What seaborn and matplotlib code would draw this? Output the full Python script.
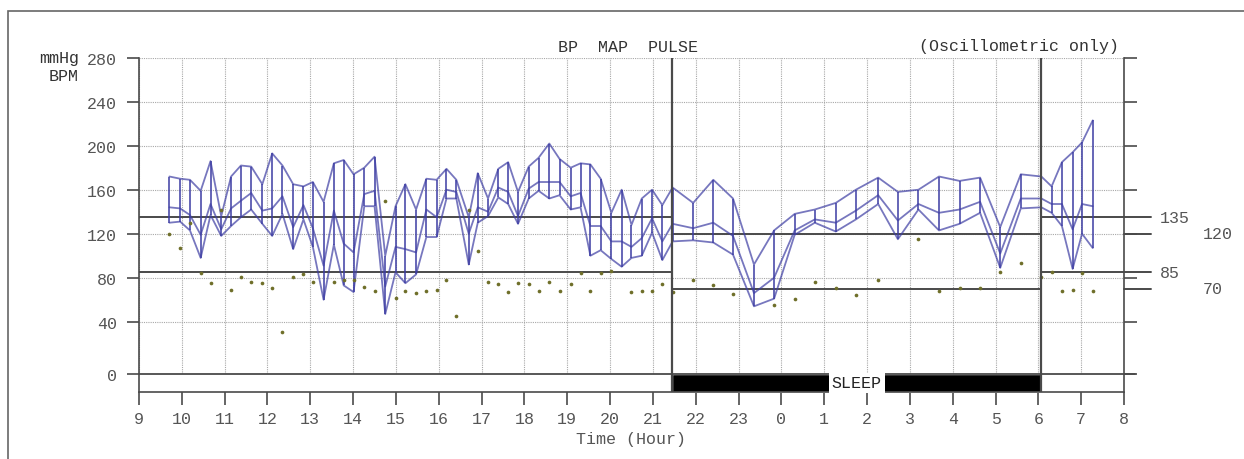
import numpy as np
import pandas as pd
import matplotlib
matplotlib.use("Agg")
import matplotlib.pyplot as plt
from matplotlib.patches import Rectangle
import seaborn as sns

# ===============================
# Data (hours after midnight of day 1)
# ===============================
hours = [9.71, 9.96, 10.19, 10.44, 10.67, 10.92, 11.15, 11.38, 11.62, 11.88,
         12.11, 12.35, 12.60, 12.84, 13.06, 13.31, 13.55, 13.78, 14.01, 14.26,
         14.50, 14.75, 14.99, 15.22, 15.47, 15.71, 15.95, 16.18, 16.41, 16.70,
         16.91, 17.15, 17.39, 17.62, 17.85, 18.10, 18.33, 18.58, 18.82, 19.08,
         19.31, 19.54, 19.78, 20.03, 20.27, 20.50, 20.74, 20.98, 21.22, 21.46,
         21.94, 22.41, 22.87, 23.36, 23.83, 24.31, 24.78, 25.27, 25.74, 26.26,
         26.72, 27.20, 27.68, 28.16, 28.64, 29.11, 29.59, 30.07, 30.31, 30.55,
         30.80, 31.02, 31.27]
systolic = [172, 170, 169, 159, 186, 136, 172, 182, 181, 165,
            193, 182, 165, 163, 167, 149, 184, 187, 174, 180,
            190, 100, 145, 165, 142, 170, 169, 179, 169, 135,
            175, 152, 179, 185, 158, 181, 189, 202, 188, 180,
            184, 183, 170, 139, 160, 128, 152, 160, 146, 162,
            148, 169, 152, 92, 123, 138, 142, 148, 160, 171,
            158, 160, 172, 168, 171, 126, 174, 172, 163, 185,
            194, 203, 223]
mean_ap = [144, 143, 137, 119, 147, 124, 143, 150, 157, 141,
           143, 154, 126, 146, 125, 91, 141, 111, 103, 156,
           159, 72, 108, 106, 103, 142, 135, 160, 158, 120,
           144, 140, 162, 158, 136, 161, 167, 167, 167, 154,
           157, 127, 127, 113, 113, 108, 116, 134, 113, 129,
           125, 130, 118, 66, 80, 123, 133, 130, 141, 155,
           132, 147, 139, 142, 149, 102, 152, 152, 147, 147,
           124, 147, 145]
diastolic = [130, 131, 123, 98, 137, 118, 127, 135, 142, 129,
             118, 138, 106, 133, 108, 60, 110, 73, 67, 145,
             145, 47, 85, 75, 83, 117, 117, 152, 152, 92,
             130, 136, 153, 147, 129, 152, 159, 152, 155, 142,
             144, 100, 105, 97, 90, 98, 100, 121, 96, 113,
             114, 112, 101, 54, 61, 119, 130, 122, 133, 147,
             115, 142, 123, 129, 139, 89, 143, 144, 139, 127,
             88, 120, 107]
pulse = [120, 107, 130, 84, 75, 142, 69, 81, 76, 75,
         71, 32, 81, 83, 76, np.nan, 76, 78, 78, 72,
         68, 150, 62, 68, 66, 68, 69, 78, 45, 142,
         104, 76, 74, 67, 75, 74, 68, 76, 68, 74,
         84, 68, 84, 86, np.nan, 67, 68, 68, 74, 67,
         78, 73, 65, np.nan, 55, 61, 76, 71, 64, 78,
         np.nan, 115, 68, 71, 71, 85, 93, 81, 85, 68,
         69, 84, 68]

sleep_start = 21.45
sleep_end = 30.07
day_limits = [135, 85]
night_limits = [120, 70]
hour_ticks = list(range(9, 33))
hour_labels = [str(h % 24) for h in hour_ticks]
bp_ticks = list(range(0, 281, 40))

# ===============================
# Look
# ===============================
BLUE = "#3d3da3"
OLIVE = "#6f6f2a"
DARK = "#4a4a4a"
TEXT = "#555555"

sns.set_style("white")
plt.rcParams["font.family"] = ["Liberation Mono", "DejaVu Sans Mono"]
plt.rcParams["font.size"] = 12

# the report stretches the band between 0 and 40 a little
STRETCH = 1.1875


def fwd(v):
    v = np.asarray(v, dtype=float)
    return np.where(v >= 40, v, 40 - (40 - v) * STRETCH)


def inv(u):
    u = np.asarray(u, dtype=float)
    return np.where(u >= 40, u, 40 - (40 - u) / STRETCH)


df = pd.DataFrame({"hour": hours, "sys": systolic, "map": mean_ap,
                   "dia": diastolic, "pulse": pulse})

fig = plt.figure(figsize=(12.44, 4.6), dpi=100)
ax = fig.add_axes([139 / 1244, 67 / 460, 985 / 1244, 334.3 / 460])
ax.set_yscale("function", functions=(fwd, inv))

ymin = -13.8
ax.set_xlim(9, 32)
ax.set_ylim(ymin, 280)

# dotted grid
ax.set_axisbelow(True)
ax.grid(True, color="#a8a8a8", linestyle=(0, (1, 1)), linewidth=0.8)

# BP lines
for col in ["sys", "map", "dia"]:
    sns.lineplot(data=df, x="hour", y=col, ax=ax, color=BLUE, alpha=0.7,
                 linewidth=1.3, sort=False, estimator=None, zorder=3)
ax.vlines(df["hour"], df["dia"], df["sys"], color=BLUE, alpha=0.85,
          linewidth=1.3, zorder=3)
sns.scatterplot(data=df, x="hour", y="pulse", ax=ax, color=OLIVE, s=7,
                linewidth=0, zorder=4)

# thresholds
for v in day_limits:
    ax.plot([9, sleep_start], [v, v], color=DARK, lw=1.4, zorder=2)
    ax.plot([sleep_end, 32.62], [v, v], color=DARK, lw=1.4, zorder=2,
            clip_on=False)
for v in night_limits:
    ax.plot([sleep_start, sleep_end], [v, v], color=DARK, lw=1.4, zorder=2)
    ax.plot([32, 32.62], [v, v], color=DARK, lw=1.4, zorder=2, clip_on=False)
for v in day_limits:
    ax.text(1.0366, v, str(v), transform=ax.get_yaxis_transform(),
            va="center", ha="left", color=TEXT, fontsize=12)
for v in night_limits:
    ax.text(1.080, v, str(v), transform=ax.get_yaxis_transform(),
            va="center", ha="left", color=TEXT, fontsize=12)

# sleep boundaries
for x in [sleep_start, sleep_end]:
    ax.axvline(x, color=DARK, lw=1.6, zorder=5)

# bottom band with sleep bar
ax.add_patch(Rectangle((9, ymin), 23, -ymin, facecolor="white",
                       edgecolor="none", zorder=1.5))
ax.broken_barh([(sleep_start, sleep_end - sleep_start)], (ymin, -ymin),
               facecolors="black", zorder=2)
ax.text((sleep_start + sleep_end) / 2, ymin / 2, "SLEEP", ha="center",
        va="center", fontsize=12, color="#222222", zorder=6,
        bbox=dict(facecolor="white", edgecolor="none", pad=2))
ax.plot([9, 32.25], [0, 0], color=DARK, lw=1.3, zorder=5, clip_on=False)

# axes
ax.set_xticks(hour_ticks)
ax.set_xticklabels(hour_labels)
ax.set_yticks(bp_ticks)
ax.set_yticklabels([str(t) for t in bp_ticks])
ax.minorticks_off()
ax.tick_params(axis="both", direction="out", length=9, width=1.2,
               color=DARK, labelcolor=TEXT, labelsize=12)
ax.tick_params(axis="y", left=True, right=True, pad=7)
ax.tick_params(axis="x", bottom=True, pad=5)
for side in ["left", "right", "bottom"]:
    ax.spines[side].set_color(DARK)
    ax.spines[side].set_linewidth(1.2)
ax.spines["top"].set_visible(False)
ax.set_ylabel("")
ax.set_xlabel("Time (Hour)", color=TEXT, fontsize=12, labelpad=3)

fig.text(79 / 1244, 1 - 58.5 / 460, "mmHg", ha="right", va="center",
         color="#333333", fontsize=12)
fig.text(79 / 1244, 1 - 76.5 / 460, "BPM", ha="right", va="center",
         color="#333333", fontsize=12)
fig.text(558 / 1244, 1 - 47 / 460, "BP  MAP  PULSE", ha="left", va="center",
         color="#333333", fontsize=12)
fig.text(1119 / 1244, 1 - 47 / 460, "(Oscillometric only)", ha="right",
         va="center", color="#333333", fontsize=12)

# outer frame of the report page
fig.patches.append(Rectangle((8 / 1244, -0.1), 1.2, 1.1 - 12 / 460,
                             transform=fig.transFigure, fill=False,
                             edgecolor="#666666", lw=1.2))

fig.savefig("out.png", dpi=100, facecolor="white")
